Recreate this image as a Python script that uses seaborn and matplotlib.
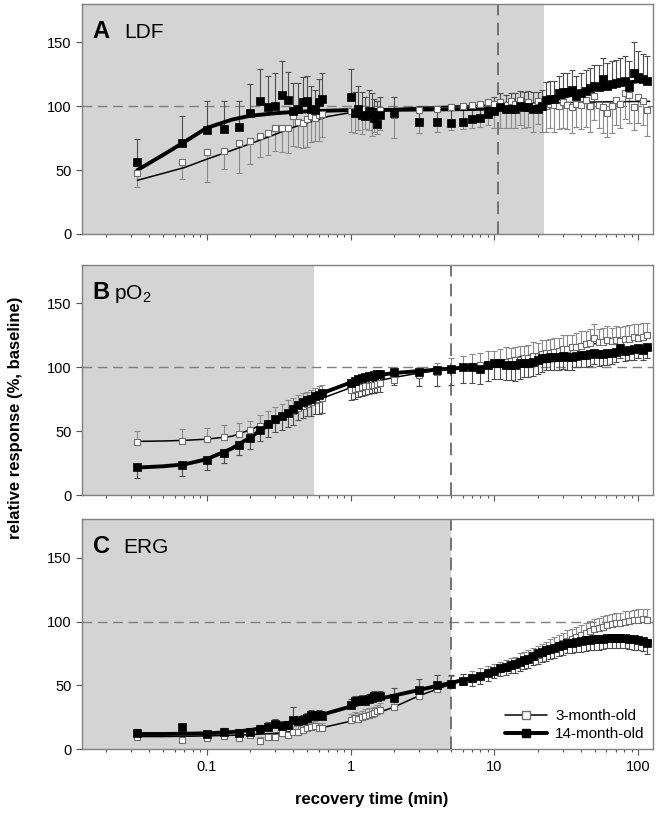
import numpy as np
import seaborn as sns
import matplotlib.pyplot as plt
from matplotlib.lines import Line2D

# recovery time points (min)
t = [0.033, 0.067, 0.1, 0.133, 0.167, 0.2, 0.233, 0.267, 0.3, 0.333, 0.367, 0.4, 0.433, 0.467, 0.5, 0.533, 0.567, 0.6, 0.633,
     1.0, 1.067, 1.133, 1.2, 1.267, 1.333, 1.4, 1.467, 1.533, 1.6,
     2, 3, 4, 5, 6, 7, 8, 9,
     10, 11, 12, 13, 14, 15, 16, 17, 18.5, 20,
     21.5, 23, 24.5, 26, 28, 30, 32, 34.5, 37, 40,
     43, 46, 49.5, 53, 57, 61, 65.5, 70, 75, 80.5,
     86.5, 93, 100, 107, 115]

# A  LDF
ldf_3 = [48, 56, 64, 65, 71, 73, 77, 79, 83, 83, 83, 92, 88, 87, 90, 92, 91, 93, 94,
         96, 94, 97, 95, 98, 96, 93, 95, 92, 97,
         93, 97, 98, 99, 100, 101, 102, 103,
         102, 103, 101, 104, 102, 105, 101, 103, 100, 104,
         99, 100, 102, 101, 100, 103, 101, 99, 102, 101,
         105, 100, 108, 101, 99, 95, 100, 105, 102, 110,
         109, 99, 107, 104, 97]
ldf_3_err = [-11, -13, -23, -14, -23, -18, -17, -17, -18, -19, -20, -23, -20, -20, -22, -20, -18, -20, -18,
             -16, -15, -16, -17, -16, -15, -16, -15, -14, -16,
             -18, -18, -18, -18, -18, -18, -18, -18,
             -19, -20, -18, -21, -19, -20, -18, -19, -20, -18,
             -19, -20, -19, -21, -18, -20, -19, -20, -18, -19,
             -21, -20, -19, -18, -20, -19, -21, -20, -19, -20,
             -22, -18, -20, -19, -20]
ldf_14 = [56, 71, 81, 82, 84, 95, 104, 99, 100, 109, 105, 96, 98, 103, 104, 98, 97, 103, 106,
          107, 95, 98, 93, 92, 96, 94, 91, 86, 93,
          95, 88, 88, 87, 88, 90, 91, 94,
          96, 99, 98, 98, 98, 100, 99, 99, 98, 98,
          100, 105, 106, 106, 110, 111, 111, 113, 108, 110,
          112, 114, 116, 115, 121, 116, 117, 118, 119, 120,
          115, 126, 123, 121, 120]
ldf_14_err = [18, 21, 23, 22, 20, 22, 25, 25, 26, 26, 22, 22, 20, 20, 20, 18, 16, 18, 20,
              22, 16, 18, 18, 15, 17, 16, 15, 18, 14,
              12, 12, 12, 10, 10, 10, 10, 10,
              11, 11, 11, 12, 12, 12, 12, 13, 13, 13,
              13, 14, 14, 14, 14, 15, 15, 15, 16, 16,
              16, 16, 16, 17, 17, 18, 18, 18, 19, 19,
              20, 24, 20, 20, 19]

# B  pO2
po2_3 = [41.7, 42.5, 44, 45.5, 48, 51, 54, 56.5, 59, 61.5, 64, 66, 68, 70, 71, 72.5, 74, 75, 76,
         82, 83, 84, 84.5, 85, 85.5, 86, 86.5, 87, 87.5,
         90, 94, 96.5, 99, 100, 101, 101.5, 102.5,
         103, 104, 104.5, 105, 106, 106, 107, 107.5, 108.5, 109,
         110, 111.5, 111, 112, 113, 114, 114.5, 115.5, 116, 117,
         118, 119, 123, 120, 119.5, 121, 120.5, 121.5, 120.5, 122,
         122, 123.5, 123, 124, 125]
po2_3_err = [8.6, 9, 8.4, 9, 8, 7.3, 9, 9, 10, 10, 10, 10, 10, 10, 10, 10, 10, 10, 10,
             7, 7, 7, 7, 7, 7, 7, 7, 7, 7,
             3, 6, 7, 8, 9, 9, 10, 10,
             10, 10, 11, 10, 10, 11, 10, 10, 11, 10,
             11, 10, 11, 11, 10, 11, 11, 10, 11, 11,
             10, 11, 11, 10, 11, 11, 10, 11, 11, 10,
             11, 10, 11, 11, 10]
po2_14 = [21.7, 23.5, 27.5, 33, 39, 45, 51, 55.5, 59.5, 62, 64.5, 67, 70.5, 73, 74.5, 75.5, 77.5, 78.5, 79.5,
          88, 89.5, 90.5, 91.5, 92.5, 93, 93.5, 94, 94.5, 95,
          96, 96.5, 97.5, 98.5, 100, 100, 99, 101.5,
          103, 103, 102, 102, 101.5, 103, 103, 103.5, 104.5, 106,
          107, 107.5, 108, 108, 108, 108.5, 108, 108, 109, 109.5,
          109.5, 110, 111.5, 110, 110.5, 111, 111.5, 112, 115, 113,
          113.5, 114, 115, 113.5, 115.5]
po2_14_err = [-8.7, -8.5, -8, -7.8, -7.8, -8.6, -9, -10, -10, -11, -11, -12, -12, -13, -13, -14, -14, -15, -15,
              -14, -14, -14, -14, -14, -14, -14, -14, -14, -14,
              -10, -11, -12, -12, -12, -12, -12, -12,
              -12, -12, -12, -12, -12, -12, -11, -11, -11, -11,
              -11, -10, -10, -10, -10, -10, -10, -10, -9, -9,
              -9, -9, -9, -9, -9, -9, -9, -8, -8, -8,
              -8, -8, -8, -8, -8]

# C  ERG
erg_3 = [10, 7.3, 8.7, 10.5, 8.7, 11, 6.5, 10, 9.4, 13, 11, 13.9, 13.9, 15.2, 16.5, 17.3, 17.9, 16.5, 16.5,
         23, 24.3, 23.6, 25, 26.2, 27, 27.5, 28.3, 30, 31,
         33, 42, 47, 51, 53, 55, 57.5, 59.5,
         61, 62.5, 64, 65.5, 66.5, 68, 69, 70.5, 72, 74,
         75.5, 77, 78.5, 80, 81.5, 83, 85, 86.5, 88, 89.5,
         91, 92.5, 94, 95, 96, 97, 98, 98.5, 99, 100,
         100.5, 101, 101.5, 102, 101.5]
erg_3_err = [3, 3, 3, 3, 3, 3, 3, 3, 3, 3, 3, 4, 4, 4, 4, 4, 4, 4, 4,
             5, 5, 5, 5, 5, 5, 5, 5, 5, 5,
             5, 6, 6, 6, 6, 6, 6, 6,
             6, 6, 6, 6, 6, 7, 7, 7, 7, 7,
             7, 7, 8, 8, 8, 8, 8, 8, 8, 8,
             8, 8, 8, 8, 8, 8, 8, 8, 8, 8,
             8, 8, 8, 8, 8]
erg_14 = [13, 17.3, 12, 13.9, 13, 13.9, 15.7, 17.3, 19.9, 18.3, 19.1, 23, 21.8, 23, 24.4, 27, 25.7, 27, 25.8,
          35, 37.5, 38, 38.8, 38, 39, 40, 42, 41, 41.5,
          40, 46.5, 50, 51.5, 53.3, 55.5, 57.2, 59.8,
          61.5, 63.5, 64.5, 66, 67, 68.5, 70, 71, 73, 75,
          76, 77.5, 78.5, 79.5, 81, 82, 83, 83.5, 84, 84.5,
          85.3, 85.6, 86.1, 86.1, 86.6, 86.9, 87.4, 87.4, 86.9, 86.9,
          86.6, 86.1, 85.6, 84.8, 83.5]
erg_14_err = [3, 2, 2, 3, 3, 3, 3, 4, 4, 4, 3, 10, 4, 4, 4, 4, 4, 4, 4,
              4, 4, 4, 4, 4, 4, 4, 4, 4, 4,
              8, 8.5, 8.5, 7, 6, -6, -6, -6,
              -6, -6, -6, -6, -7, -7, -7, -7, -7, -8,
              -8, -8, -8, -8, -8, -8, -8, -8, -8, -8,
              -8, -8, -8, -8, -8, -8, -8, -8, -8, -8,
              -8, -8, -8, -8, -9]

# fitted curves
t_fit = [0.033, 0.05, 0.07, 0.1, 0.15, 0.2, 0.3, 0.4, 0.5, 0.7, 1, 1.5, 2, 3, 5, 7, 10, 15, 20, 25, 30, 40, 50, 70, 100, 120]
fit_ldf_3 = [42, 47.5, 52, 58.5, 65.5, 70.5, 78, 83.5, 87, 92, 95, 97, 98, 99, 100, 100.5, 101, 101.8, 102.3, 102.6, 102.8, 103.1, 103.3, 103.5, 103.7, 103.8]
fit_ldf_14 = [50, 62, 72, 83, 89.5, 92.5, 94.5, 95.5, 96, 96.5, 97, 97, 97.2, 97.4, 97.6, 97.8, 98.3, 99.5, 101.5, 104, 107, 111, 114, 117.5, 119.5, 120]
fit_po2_3 = [42, 42.3, 42.8, 43.7, 46, 51, 59.5, 66, 71, 77.5, 84, 89, 92, 95.5, 99, 101.5, 104, 108, 110.5, 112.5, 114, 116.5, 118.5, 121, 123.5, 124.5]
fit_po2_14 = [21.5, 22.5, 24, 28, 36.5, 45, 58.5, 67, 74, 81.5, 88, 93.5, 95.5, 97, 99, 100, 101, 102.5, 104, 105.3, 106.3, 108, 109.5, 111.5, 113.5, 114.5]
fit_erg_3 = [10, 10, 10.2, 10.5, 11, 11.5, 12.5, 13.8, 15, 18, 22, 28, 33, 42, 51, 55.5, 61, 68, 74, 78.5, 82, 88, 93.5, 98, 100.8, 102]
fit_erg_14 = [12, 12, 12.2, 12.5, 13.5, 15, 18.5, 21.5, 24, 28.5, 33.5, 39, 42, 46.5, 52, 56, 61, 69, 75, 78.5, 81.5, 84.5, 86, 87, 86, 84.5]

panel_letters = ['A', 'B', 'C']
panel_names = ['LDF', r'pO$_\mathregular{2}$', 'ERG']
name_x = [0.0736, 0.056, 0.072]
shade_end = [22.2, 0.56, 5.0]
dash_x = [10.6, 5.0, 5.0]

sns.set_theme(style='ticks')
plt.rcParams['font.family'] = ['Liberation Sans', 'DejaVu Sans']
plt.rcParams['text.color'] = 'black'

fig = plt.figure(figsize=(6.58, 8.15), dpi=100)
boxes = [[0.1246, 0.7129, 0.8678, 0.2822],
         [0.1246, 0.3926, 0.8678, 0.2822],
         [0.1246, 0.0806, 0.8678, 0.2822]]

data = [(ldf_3, ldf_3_err, ldf_14, ldf_14_err, fit_ldf_3, fit_ldf_14),
        (po2_3, po2_3_err, po2_14, po2_14_err, fit_po2_3, fit_po2_14),
        (erg_3, erg_3_err, erg_14, erg_14_err, fit_erg_3, fit_erg_14)]

x0, x1 = 0.0136, 126.5
tt = np.array(t)

for i, box in enumerate(boxes):
    ax = fig.add_axes(box)
    ax.set_xscale('log')
    y3, e3, y14, e14, f3, f14 = data[i]

    ax.axvspan(x0, shade_end[i], color='#d4d4d4', lw=0, zorder=0)
    ax.axhline(100, color='#808080', ls=(0, (7, 4)), lw=1.0, zorder=1)
    ax.axvline(dash_x[i], color='#6a6a6a', ls=(0, (7, 4)), lw=1.3, zorder=1)

    # one-sided error bars (sign gives direction)
    for y, e, col in [(y3, e3, '#8a8a8a'), (y14, e14, '#4d4d4d')]:
        e = np.array(e, dtype=float)
        lo = np.where(e < 0, -e, 0)
        hi = np.where(e > 0, e, 0)
        ax.errorbar(tt, y, yerr=[lo, hi], fmt='none', ecolor=col, elinewidth=0.8,
                    capsize=2.3, capthick=0.8, zorder=2)

    sns.lineplot(x=t_fit, y=f3, ax=ax, color='black', lw=1.1, zorder=3)
    sns.lineplot(x=t_fit, y=f14, ax=ax, color='black', lw=2.8, zorder=3)
    sns.scatterplot(x=t, y=y3, ax=ax, marker='s', s=22, color='white',
                    edgecolor='#6e6e6e', linewidth=0.8, zorder=4)
    sns.scatterplot(x=t, y=y14, ax=ax, marker='s', s=26, color='black',
                    edgecolor='black', linewidth=0.5, zorder=5)

    ax.set_xlim(x0, x1)
    ax.set_ylim(0, 180)
    ax.set_yticks([0, 50, 100, 150])
    ax.set_xticks([0.1, 1, 10, 100], labels=['0.1', '1', '10', '100'])
    ax.set_xlabel('')
    ax.set_ylabel('')
    ax.tick_params(which='both', direction='out', color='#555555', labelcolor='black',
                   labelsize=10.5, width=0.8)
    ax.tick_params(which='major', length=4)
    ax.tick_params(which='minor', length=2.2)
    if i < 2:
        ax.tick_params(labelbottom=False)
    for sp in ax.spines.values():
        sp.set_color('#808080')
        sp.set_linewidth(1.0)

    ax.text(0.019, 0.853, panel_letters[i], transform=ax.transAxes, fontsize=17,
            fontweight='bold', va='baseline', ha='left', color='black')
    ax.text(name_x[i], 0.853, panel_names[i], transform=ax.transAxes, fontsize=15,
            va='baseline', ha='left', color='black')

    if i == 2:
        handles = [Line2D([0], [0], color='black', lw=1.1, marker='s', ms=6,
                          mfc='white', mec='#6e6e6e'),
                   Line2D([0], [0], color='black', lw=2.8, marker='s', ms=6,
                          mfc='black', mec='black')]
        leg = ax.legend(handles, ['3-month-old', '14-month-old'], loc='lower right',
                        frameon=False, fontsize=11, handlelength=2.8, borderaxespad=0.15,
                        labelspacing=0.25, handletextpad=0.5)
        for txt in leg.get_texts():
            txt.set_color('black')

fig.text(0.0228, 0.487, 'relative response (%, baseline)', rotation=90, ha='center',
         va='center', fontsize=12, fontweight='bold', color='black')
fig.text(0.5646, 0.019, 'recovery time (min)', ha='center', va='center',
         fontsize=12, fontweight='bold', color='black')

fig.savefig('out.png', dpi=100)
